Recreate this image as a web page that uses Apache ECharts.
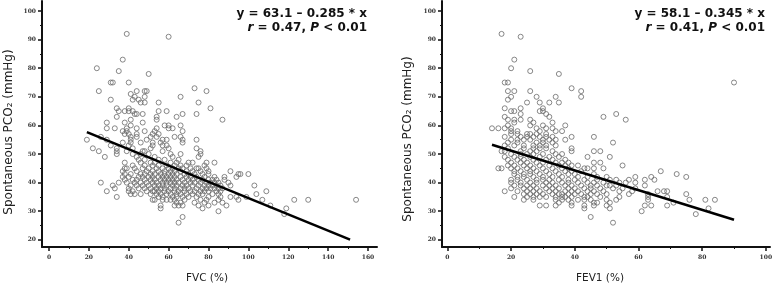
<!DOCTYPE html>
<html>
<head>
<meta charset="utf-8">
<script src="https://cdn.jsdelivr.net/npm/echarts@6/dist/echarts.min.js"></script>
<style>
  html, body { margin: 0; padding: 0; background: #fff; }
  #main { width: 777px; height: 287px; }
</style>
</head>
<body>
<div id="main"></div>
<script>
// PCO2 levels and the FVC (%) values read at each level
var fvcPco2 = [92, 91, 83, 80, 79, 78, 75, 73, 72, 71, 70, 69, 68, 66, 65, 64, 63, 62, 61, 60,
    59, 58, 57, 56, 55, 54, 53, 52, 51, 50, 49, 48, 47, 46, 45, 44, 43, 42, 41, 40,
    39, 38, 37, 36, 35, 34, 33, 32, 31, 30, 29, 28, 26];
var fvcValues = [
    [39], [60], [37], [24], [35], [50], [31, 32, 40], [73], [25, 44, 48, 49, 79], [41],
    [43, 48, 66], [31, 42, 45], [46, 48, 55, 75], [34, 40, 81], [35, 38, 40, 42, 55, 59],
    [43, 44, 47, 67, 74], [34, 54, 64], [41, 54, 87], [29, 38, 47], [41, 58, 60, 66],
    [29, 33, 39, 44, 54, 60, 62], [37, 39, 48, 53, 67], [38, 40, 44, 52, 55],
    [26, 41, 44, 51, 54, 63, 66], [19, 29, 41, 49, 57, 59, 67, 74], [37, 41, 46, 52, 56, 67],
    [31, 40, 52, 57, 59], [22, 34, 42, 51, 60, 74], [25, 34, 39, 47, 48, 57, 76],
    [34, 42, 46, 50, 61, 66, 76], [28, 44, 53, 62, 75], [45, 48, 55, 58, 65],
    [38, 46, 51, 53, 61, 64, 70, 72, 79, 83], [42, 48, 52, 55, 59, 63, 66, 69, 78],
    [38, 39, 43, 47, 50, 54, 57, 60, 62, 65, 67, 71, 74, 75, 79],
    [37, 44, 49, 52, 55, 58, 61, 63, 66, 69, 72, 76, 80, 91],
    [38, 41, 46, 48, 51, 53, 56, 58, 60, 62, 64, 68, 70, 73, 77, 80, 95, 96, 100],
    [37, 40, 45, 47, 50, 52, 55, 57, 59, 61, 63, 66, 69, 71, 74, 78, 83, 88, 94],
    [38, 42, 44, 48, 51, 53, 56, 58, 60, 62, 64, 67, 70, 72, 75, 77, 80, 82, 84, 88],
    [26, 35, 39, 43, 46, 49, 52, 54, 57, 59, 61, 63, 65, 68, 71, 73, 76, 79, 81, 83, 85, 90],
    [32, 41, 44, 47, 50, 53, 55, 57, 59, 62, 64, 67, 69, 72, 75, 78, 80, 82, 84, 86, 91, 103],
    [33, 40, 45, 48, 51, 54, 56, 58, 61, 63, 66, 68, 70, 74, 77, 79, 81, 83, 85, 87],
    [29, 40, 42, 49, 52, 53, 55, 58, 60, 63, 65, 68, 71, 73, 76, 78, 80, 84, 86, 109],
    [41, 43, 46, 51, 54, 56, 59, 61, 64, 66, 69, 72, 75, 77, 82, 85, 104],
    [34, 55, 57, 62, 64, 67, 70, 74, 80, 86, 91, 94, 99],
    [52, 53, 57, 59, 61, 63, 68, 76, 79, 85, 95, 107, 123, 130, 154],
    [64, 66, 73, 78, 83, 87], [56, 63, 65, 67, 75, 80, 89, 111], [56, 77, 119],
    [85], [118], [67], [65]
];

// PCO2 levels and the FEV1 (%) values read at each level
var fevPco2 = [92, 91, 83, 80, 79, 78, 75, 73, 72, 70, 69, 68, 66, 65, 64, 63, 62, 61, 60,
    59, 58, 57, 56, 55, 54, 53, 52, 51, 50, 49, 48, 47, 46, 45, 44, 43, 42, 41, 40,
    39, 38, 37, 36, 35, 34, 33, 32, 31, 30, 29, 28, 26];
var fevValues = [
    [17], [23], [21], [20], [26], [35], [18, 19, 90], [39], [19, 21, 26, 42], [20, 28, 34, 42],
    [19], [25, 29, 32, 35], [18, 23, 30], [20, 21, 29, 30], [23, 31, 53], [18, 32, 49],
    [19, 21, 23, 26, 56], [21, 27, 33], [19, 26, 30, 37], [14, 16, 18, 20, 28, 31, 33],
    [20, 22, 29, 34, 36], [20, 22, 25, 26, 28, 31], [18, 23, 25, 27, 29, 31, 33, 39, 46],
    [20, 22, 24, 26, 30, 32, 34, 37], [19, 22, 28, 30, 33, 52], [18, 21, 24, 27, 29, 31, 34],
    [19, 24, 27, 29, 31, 39], [17, 18, 23, 26, 28, 33, 39, 46, 48],
    [20, 23, 25, 27, 30, 34, 36], [18, 21, 23, 26, 29, 32, 35, 44, 51],
    [19, 22, 24, 27, 31, 33, 37], [20, 23, 25, 28, 30, 34, 36, 38, 46, 48],
    [19, 21, 24, 26, 29, 32, 35, 37, 39, 41, 55],
    [16, 17, 20, 22, 25, 27, 30, 33, 36, 38, 43, 44, 46, 49],
    [21, 23, 26, 28, 31, 34, 37, 39, 42, 67], [21, 24, 26, 29, 32, 35, 38, 40, 46, 72],
    [22, 24, 27, 30, 33, 36, 41, 44, 47, 50, 59, 64, 75],
    [20, 22, 25, 28, 30, 32, 35, 38, 40, 43, 47, 51, 53, 57, 62, 65],
    [20, 23, 26, 28, 31, 33, 36, 38, 41, 44, 46, 49, 54, 56, 59],
    [21, 23, 25, 27, 30, 32, 34, 37, 39, 42, 45, 47, 50, 51, 53, 62],
    [20, 24, 26, 28, 31, 33, 35, 38, 40, 43, 45, 48, 52, 55, 59],
    [18, 22, 25, 27, 29, 32, 34, 37, 39, 41, 44, 46, 49, 54, 58, 66, 68, 69],
    [24, 26, 28, 30, 33, 35, 36, 38, 40, 42, 45, 47, 50, 57, 63, 75],
    [21, 25, 27, 29, 31, 34, 36, 37, 39, 43, 44, 48, 54, 63, 69],
    [24, 27, 34, 36, 38, 41, 43, 45, 50, 53, 63, 76, 81, 84],
    [35, 39, 46, 47, 51, 71], [29, 31, 34, 39, 43, 46, 50, 62, 64, 69], [43, 51, 82],
    [61], [78], [45], [52]
];

// regression: [intercept, slope] and x range of the drawn line
var fvcFit = [63.1, -0.285];
var fvcFitRange = [19, 151];
var fevFit = [58.1, -0.345];
var fevFitRange = [14, 90];

var yMajorTicks = [20, 30, 40, 50, 60, 70, 80, 90, 100];
var yMinorTicks = [25, 35, 45, 55, 65, 75, 85, 95];
var fvcMajorTicks = [0, 20, 40, 60, 80, 100, 120, 140, 160];
var fvcMinorTicks = [10, 30, 50, 70, 90, 110, 130, 150];
var fevMajorTicks = [0, 20, 40, 60, 80, 100];
var fevMinorTicks = [10, 30, 50, 70, 90];

function toPoints(levels, values) {
    var pts = [];
    for (var i = 0; i < levels.length; i++) {
        for (var j = 0; j < values[i].length; j++) {
            pts.push([values[i][j], levels[i]]);
        }
    }
    return pts;
}
function fitLine(fit, range) {
    return range.map(function (x) { return [x, fit[0] + fit[1] * x]; });
}

var labelStyle = { fontSize: 6, fontWeight: 'bold', fontFamily: 'DejaVu Serif', color: '#333' };

function majorAxis(grid, min, max, ticks, margin) {
    return {
        type: 'value', gridIndex: grid, min: min, max: max,
        splitLine: { show: false },
        axisLine: { show: true, onZero: false, lineStyle: { color: '#111', width: 2 } },
        axisTick: { show: true, customValues: ticks, length: 4, lineStyle: { color: '#111', width: 1.5 } },
        axisLabel: Object.assign({ customValues: ticks, margin: margin }, labelStyle)
    };
}
function minorAxis(grid, min, max, ticks) {
    return {
        type: 'value', gridIndex: grid, min: min, max: max,
        splitLine: { show: false },
        axisLine: { show: false, onZero: false },
        axisTick: { show: true, customValues: ticks, length: 2, lineStyle: { color: '#111', width: 1 } },
        axisLabel: { show: false, customValues: [] }
    };
}

var scatterStyle = { color: 'rgba(255,255,255,0)', borderColor: '#6a6a6a', borderWidth: 1 };
var lineStyle = { color: '#000', width: 2.5 };

var titleFont = { fontFamily: 'DejaVu Sans', fontSize: 12, fill: '#222' };
function text(x, y, str, opts) {
    return {
        type: 'text', x: x, y: y, rotation: opts.rotation || 0,
        style: Object.assign({
            text: str, align: opts.align || 'center', verticalAlign: 'middle'
        }, titleFont, opts.style || {})
    };
}
var eqFont = { fontFamily: 'DejaVu Sans', fontSize: 12, fontWeight: 'bold', fill: '#111' };
function eqText(x, y, str) {
    return {
        type: 'text', x: x, y: y,
        style: Object.assign({
            text: str, align: 'right', verticalAlign: 'middle',
            rich: { i: Object.assign({ fontStyle: 'italic' }, eqFont) }
        }, eqFont)
    };
}

var chart = echarts.init(document.getElementById('main'), null, { renderer: 'canvas' });
chart.setOption({
    animation: false,
    backgroundColor: '#fff',
    grid: [
        { left: 42, right: 400, top: 1, bottom: 40 },
        { left: 442, right: 7, top: 1, bottom: 40 },
        { left: 42, right: 400, top: 1, bottom: 40 },
        { left: 442, right: 7, top: 1, bottom: 40 }
    ],
    xAxis: [
        majorAxis(0, -3.5, 164.5, fvcMajorTicks, 7),
        majorAxis(1, -1.7, 101.3, fevMajorTicks, 7),
        minorAxis(2, -3.5, 164.5, fvcMinorTicks),
        minorAxis(3, -1.7, 101.3, fevMinorTicks)
    ],
    yAxis: [
        majorAxis(0, 17.5, 103.5, yMajorTicks, 6),
        majorAxis(1, 17.5, 103.5, yMajorTicks, 6),
        minorAxis(2, 17.5, 103.5, yMinorTicks),
        minorAxis(3, 17.5, 103.5, yMinorTicks)
    ],
    series: [
        {
            type: 'scatter', xAxisIndex: 0, yAxisIndex: 0, symbol: 'circle', symbolSize: 5,
            data: toPoints(fvcPco2, fvcValues), itemStyle: scatterStyle, silent: true
        },
        {
            type: 'line', xAxisIndex: 0, yAxisIndex: 0, showSymbol: false, symbol: 'none',
            data: fitLine(fvcFit, fvcFitRange), lineStyle: lineStyle, z: 5
        },
        {
            type: 'scatter', xAxisIndex: 1, yAxisIndex: 1, symbol: 'circle', symbolSize: 5,
            data: toPoints(fevPco2, fevValues), itemStyle: scatterStyle, silent: true
        },
        {
            type: 'line', xAxisIndex: 1, yAxisIndex: 1, showSymbol: false, symbol: 'none',
            data: fitLine(fevFit, fevFitRange), lineStyle: lineStyle, z: 5
        }
    ],
    graphic: [
        text(9, 132, 'Spontaneous PCO₂ (mmHg)', { rotation: Math.PI / 2 }),
        text(408, 139, 'Spontaneous PCO₂ (mmHg)', { rotation: Math.PI / 2 }),
        text(207, 278, 'FVC (%)', { style: { fontSize: 10.5 } }),
        text(600, 278, 'FEV1 (%)', { style: { fontSize: 10.5 } }),
        eqText(367, 14, 'y = 63.1 – 0.285 * x'),
        eqText(367, 28, '{i|r} = 0.47, {i|P} < 0.01'),
        eqText(765, 14, 'y = 58.1 – 0.345 * x'),
        eqText(765, 28, '{i|r} = 0.41, {i|P} < 0.01')
    ]
});
</script>
</body>
</html>
